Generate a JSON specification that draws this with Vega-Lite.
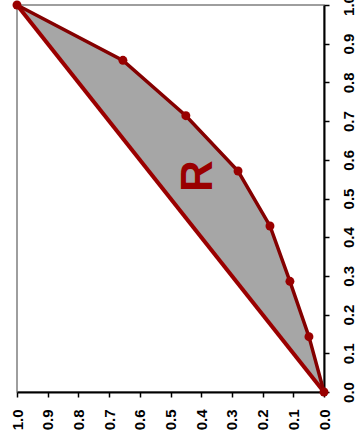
{
  "$schema": "https://vega.github.io/schema/vega-lite/v6.json",
  "width": 307,
  "height": 387,
  "autosize": {"type": "none"},
  "padding": {"left": 17, "top": 5, "right": 35, "bottom": 47},
  "config": {
    "font": "Liberation Sans",
    "view": {"stroke": "#7f7f7f", "strokeWidth": 1.5},
    "axis": {
      "grid": false,
      "title": null,
      "labelAngle": -90,
      "labelFontWeight": "bold",
      "labelFontSize": 15,
      "labelColor": "#000000",
      "labelFont": "Liberation Sans",
      "tickSize": 5,
      "tickColor": "#000000",
      "tickWidth": 1.5,
      "domainColor": "#000000",
      "domainWidth": 2,
      "labelPadding": 12,
      "format": ".1f",
      "values": [0, 0.1, 0.2, 0.3, 0.4, 0.5, 0.6, 0.7, 0.8, 0.9, 1.0],
      "labelOverlap": false,
      "labelFlush": false
    }
  },
  "datasets": {
    "curve": [
      {"p": 0, "c": 0},
      {"p": 0.049, "c": 0.143},
      {"p": 0.111, "c": 0.286},
      {"p": 0.176, "c": 0.429},
      {"p": 0.28, "c": 0.571},
      {"p": 0.45, "c": 0.714},
      {"p": 0.655, "c": 0.857},
      {"p": 1, "c": 1}
    ],
    "diag": [
      {"p": 0, "c": 0},
      {"p": 1, "c": 1}
    ],
    "label": [
      {"p": 0.407, "c": 0.558, "t": "R"}
    ]
  },
  "layer": [
    {
      "data": {"name": "curve"},
      "mark": {"type": "area", "color": "#a6a6a6", "opacity": 1},
      "encoding": {
        "x": {"field": "p", "type": "quantitative", "scale": {"domain": [0, 1], "reverse": true, "nice": false}, "axis": {"orient": "bottom"}},
        "y": {"field": "c", "type": "quantitative", "scale": {"domain": [0, 1], "nice": false}, "axis": {"orient": "right"}},
        "y2": {"field": "p"}
      }
    },
    {
      "data": {"name": "diag"},
      "mark": {"type": "line", "color": "#9a0000", "strokeWidth": 4},
      "encoding": {
        "x": {"field": "p", "type": "quantitative"},
        "y": {"field": "c", "type": "quantitative"}
      }
    },
    {
      "data": {"name": "curve"},
      "mark": {"type": "line", "color": "#840000", "strokeWidth": 3.5},
      "encoding": {
        "x": {"field": "p", "type": "quantitative"},
        "y": {"field": "c", "type": "quantitative"}
      }
    },
    {
      "data": {"name": "curve"},
      "mark": {"type": "circle", "color": "#990000", "size": 80, "opacity": 1},
      "encoding": {
        "x": {"field": "p", "type": "quantitative"},
        "y": {"field": "c", "type": "quantitative"}
      }
    },
    {
      "data": {"name": "label"},
      "mark": {"type": "text", "color": "#9a0000", "fontSize": 44, "fontWeight": "bold", "angle": -90, "align": "center", "baseline": "middle", "font": "Liberation Sans"},
      "encoding": {
        "x": {"field": "p", "type": "quantitative"},
        "y": {"field": "c", "type": "quantitative"},
        "text": {"field": "t"}
      }
    }
  ]
}
